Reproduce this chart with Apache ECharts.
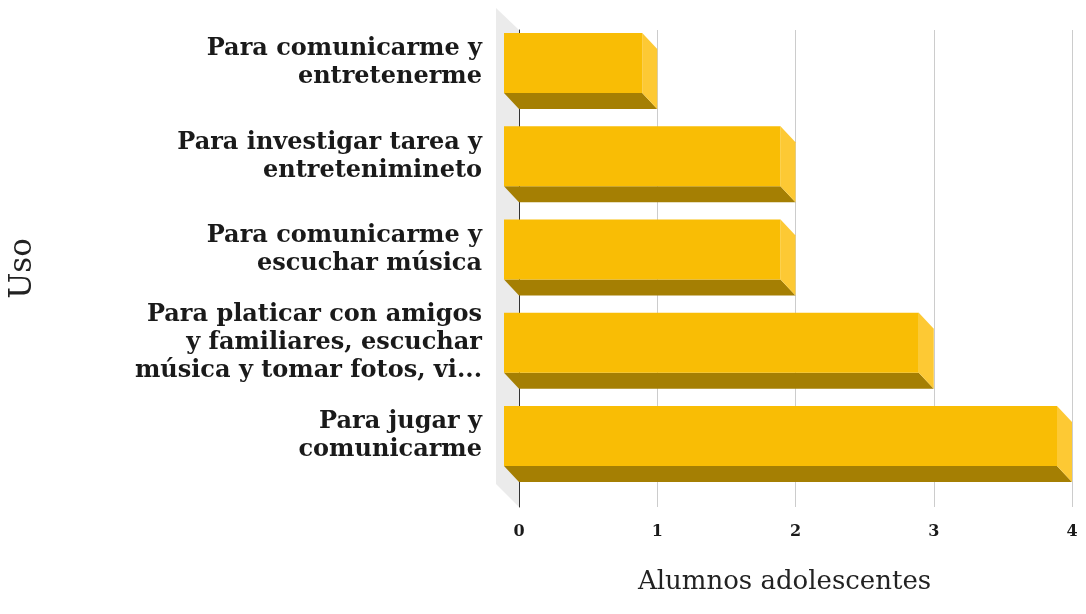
<!DOCTYPE html>
<html>
<head>
<meta charset="utf-8">
<script src="https://cdn.jsdelivr.net/npm/echarts@6/dist/echarts.min.js"></script>
<style>
  html, body { margin: 0; padding: 0; background: #fff; }
  #chart { width: 1086px; height: 614px; }
</style>
</head>
<body>
<div id="chart"></div>
<script>
// datos
const categorias = [
  'Para comunicarme y\nentretenerme',
  'Para investigar tarea y\nentretenimineto',
  'Para comunicarme y\nescuchar música',
  'Para platicar con amigos\ny familiares, escuchar\nmúsica y tomar fotos, vi...',
  'Para jugar y\ncomunicarme'
]
const alumnos = [1, 2, 2, 3, 4]
const ticksX = [0, 1, 2, 3, 4]

const serif = '"DejaVu Serif", Georgia, serif'
const left = 519, right = 14
// profundidad 3D de las barras
const dx = 15, dy = 16

const chart = echarts.init(document.getElementById('chart'))

const option = {
  backgroundColor: '#fff',
  grid: [
    // barras
    { left: left, right: right, top: 16.4, height: 466.25, containLabel: false, outerBoundsMode: 'none' },
    // rejilla y ejes
    { left: left, right: right, top: 30, height: 477, containLabel: false, outerBoundsMode: 'none' }
  ],
  xAxis: [
    {
      gridIndex: 0, type: 'value', min: 0, max: 4, interval: 1,
      show: false
    },
    {
      gridIndex: 1, type: 'value', min: ticksX[0], max: ticksX[ticksX.length - 1], interval: 1,
      axisLine: { show: false },
      axisTick: { show: false },
      splitLine: { lineStyle: { color: '#cccccc', width: 1 } },
      axisLabel: {
        margin: 17,
        fontFamily: serif, fontWeight: 'bold', fontSize: 16, color: '#1a1a1a'
      },
      name: 'Alumnos adolescentes',
      nameLocation: 'middle',
      nameGap: 62,
      nameTextStyle: { fontFamily: serif, fontSize: 26, color: '#222', padding: [0, 22, 0, 0] }
    }
  ],
  yAxis: [
    {
      gridIndex: 0, type: 'category', inverse: true,
      data: categorias,
      axisLine: { show: false },
      axisTick: { show: false },
      splitLine: { show: false },
      axisLabel: {
        margin: 37,
        fontFamily: serif, fontWeight: 'bold', fontSize: 24, lineHeight: 28,
        color: '#1a1a1a', align: 'right'
      }
    },
    {
      gridIndex: 1, type: 'value', min: 0, max: 1,
      axisLine: { show: true, lineStyle: { color: '#333', width: 1 } },
      axisTick: { show: false },
      axisLabel: { show: false },
      splitLine: { show: false },
      name: 'Uso',
      nameLocation: 'middle',
      nameRotate: 90,
      nameGap: 481,
      nameTextStyle: { fontFamily: serif, fontSize: 31, color: '#222' }
    }
  ],
  graphic: [
    // pared lateral
    {
      type: 'polygon', z: -1,
      shape: { points: [[left - 23, 8], [left, 30], [left, 507], [left - 23, 484]] },
      style: { fill: '#ebebeb' }
    }
  ],
  series: [
    {
      type: 'custom',
      xAxisIndex: 0,
      yAxisIndex: 0,
      encode: { x: 0, y: 1 },
      data: alumnos.map((v, i) => [v, i]),
      renderItem(params, api) {
        const v = api.value(0)
        const i = api.value(1)
        const p0 = api.coord([0, i])
        const p1 = api.coord([v, i])
        const band = api.size([0, 1])[1]
        const h2 = band * 0.322
        const c = p0[1]
        const x0 = p0[0] - dx, x1 = p1[0] - dx
        return {
          type: 'group',
          children: [
            {
              type: 'polygon',
              shape: { points: [[x0, c + h2], [x1, c + h2], [x1 + dx, c + h2 + dy], [x0 + dx, c + h2 + dy]] },
              style: { fill: '#a57f03' }
            },
            {
              type: 'polygon',
              shape: { points: [[x1, c - h2], [x1 + dx, c - h2 + dy], [x1 + dx, c + h2 + dy], [x1, c + h2]] },
              style: { fill: '#fdc934' }
            },
            {
              type: 'rect',
              shape: { x: x0, y: c - h2, width: x1 - x0, height: h2 * 2 },
              style: { fill: '#f9bd05' }
            }
          ]
        }
      }
    }
  ]
}

chart.setOption(option)
</script>
</body>
</html>
